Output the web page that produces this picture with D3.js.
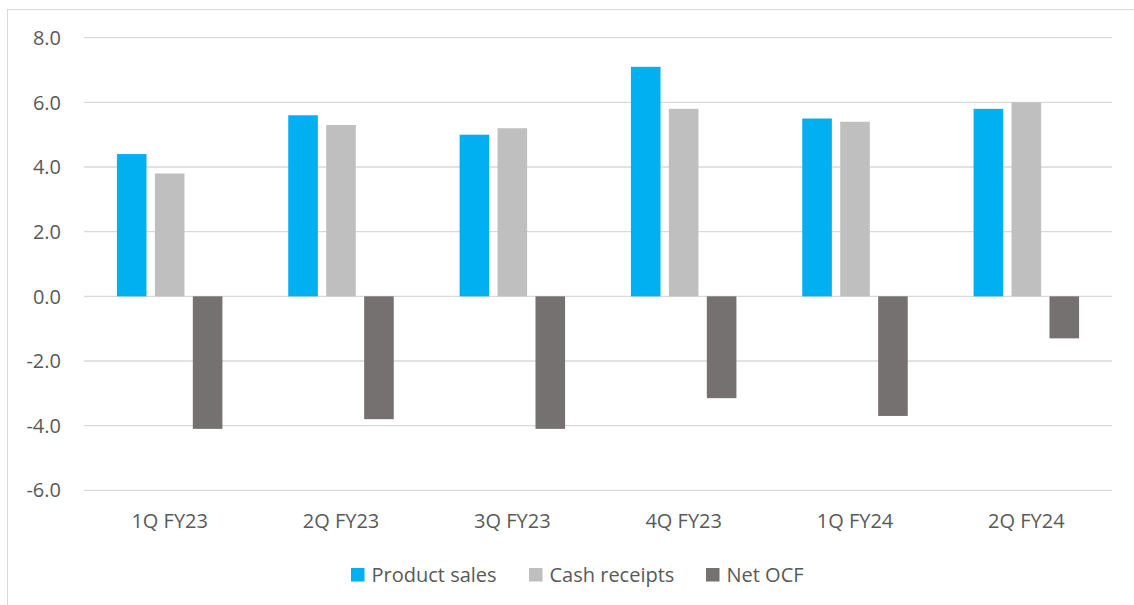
<!DOCTYPE html>
<html>
<head>
<meta charset="utf-8">
<script src="https://cdn.jsdelivr.net/npm/d3@7"></script>
<style>
  body { margin: 0; background: #fff; }
  text { font-family: "Open Sans", Lato, sans-serif; fill: #595959; }
</style>
</head>
<body>
<div id="chart"></div>
<script>
// data
var quarters = ["1Q FY23", "2Q FY23", "3Q FY23", "4Q FY23", "1Q FY24", "2Q FY24"];
var seriesNames = ["Product sales", "Cash receipts", "Net OCF"];
var productSales = [4.4, 5.6, 5.0, 7.1, 5.5, 5.8];
var cashReceipts = [3.8, 5.3, 5.2, 5.8, 5.4, 6.0];
var netOCF = [-4.1, -3.8, -4.1, -3.15, -3.7, -1.3];
var yTicks = [-6, -4, -2, 0, 2, 4, 6, 8];

var colors = ["#00B0F0", "#BFBFBF", "#767171"];

var W = 1134, H = 605;
var margin = {top: 37.7, right: 22, bottom: 114.7, left: 84};
var width = W - margin.left - margin.right,
    height = H - margin.top - margin.bottom;

var svg = d3.select("#chart").append("svg")
    .attr("width", W)
    .attr("height", H);

// chart frame
svg.append("rect")
    .attr("x", 7.5).attr("y", 9.5)
    .attr("width", W).attr("height", H)
    .attr("fill", "none")
    .attr("stroke", "#D9D9D9");

var g = svg.append("g")
    .attr("transform", "translate(" + margin.left + "," + margin.top + ")");

var x = d3.scaleBand()
    .domain(quarters)
    .range([0, width]);

var x1 = d3.scaleBand()
    .domain(seriesNames)
    .range([0, 105.5])
    .paddingInner(0.22);

var y = d3.scaleLinear()
    .domain([-6, 8])
    .range([height, 0]);

// gridlines
g.selectAll(".grid")
    .data(yTicks)
    .enter().append("line")
    .attr("class", "grid")
    .attr("x1", 0).attr("x2", width)
    .attr("y1", function(d) { return y(d); })
    .attr("y2", function(d) { return y(d); })
    .attr("stroke", "#D9D9D9")
    .attr("stroke-width", 1.3);

// y tick labels (plain hyphen for negatives, like the original)
g.selectAll(".ylab")
    .data(yTicks)
    .enter().append("text")
    .attr("class", "ylab")
    .attr("x", -23)
    .attr("y", function(d) { return y(d); })
    .attr("dy", "0.36em")
    .attr("text-anchor", "end")
    .style("font-size", "20px")
    .text(function(d) { return d.toFixed(1); });

var rows = [];
quarters.forEach(function(q, i) {
    [productSales, cashReceipts, netOCF].forEach(function(arr, j) {
        rows.push({q: q, s: seriesNames[j], v: arr[i], c: colors[j]});
    });
});

var groupOffset = (x.bandwidth() - 105.5) / 2;

g.selectAll(".bar")
    .data(rows)
    .enter().append("rect")
    .attr("class", "bar")
    .attr("x", function(d) { return x(d.q) + groupOffset + x1(d.s); })
    .attr("width", x1.bandwidth())
    .attr("y", function(d) { return y(Math.max(0, d.v)); })
    .attr("height", function(d) { return Math.abs(y(d.v) - y(0)); })
    .attr("fill", function(d) { return d.c; });

// category labels
g.selectAll(".xlab")
    .data(quarters)
    .enter().append("text")
    .attr("class", "xlab")
    .attr("x", function(d) { return x(d) + x.bandwidth() / 2; })
    .attr("y", height + 38)
    .attr("text-anchor", "middle")
    .style("font-size", "20px")
    .text(function(d) { return d; });

// legend
var legendX = [351, 529, 706];
var legend = svg.selectAll(".legend")
    .data(seriesNames)
    .enter().append("g")
    .attr("class", "legend")
    .attr("transform", function(d, i) { return "translate(" + legendX[i] + ",568)"; });

legend.append("rect")
    .attr("width", 13.5).attr("height", 13.5)
    .attr("fill", function(d, i) { return colors[i]; });

legend.append("text")
    .attr("x", 20.5)
    .attr("y", 14)
    .style("font-size", "20px")
    .text(function(d) { return d; });
</script>
</body>
</html>
